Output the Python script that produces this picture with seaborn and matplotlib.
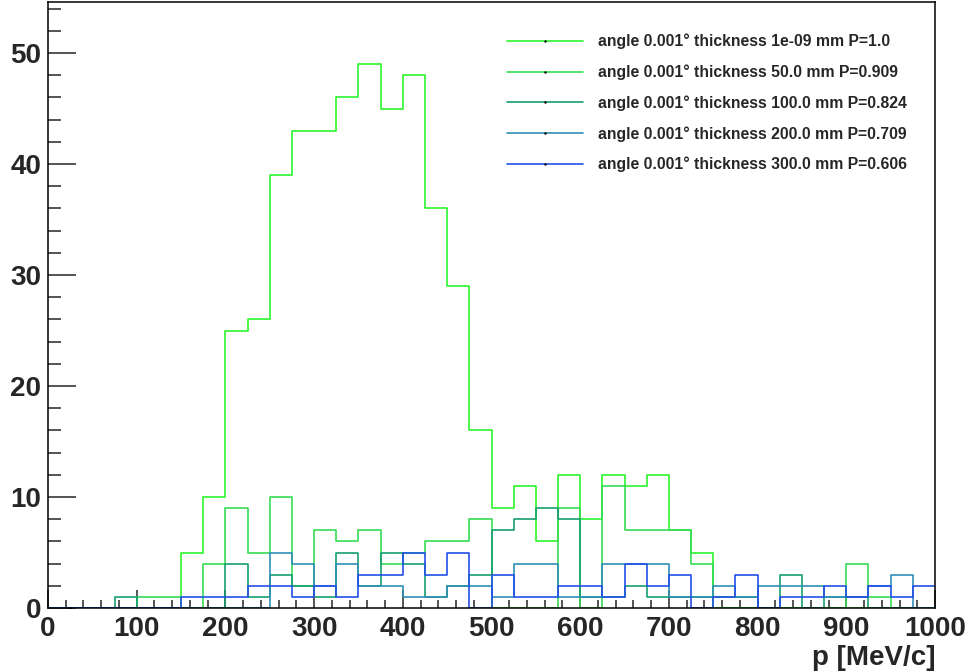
"""
Momentum spectra for several absorber thicknesses (ROOT-style step histograms)
"""

import numpy as np
import pandas as pd
import matplotlib
matplotlib.use("Agg")
import matplotlib.pyplot as plt
import seaborn as sns
from matplotlib.ticker import MultipleLocator

# Binning: 40 bins of 25 MeV/c from 0 to 1000
n_bins = 40
p_range = (0, 1000)
bin_centers = np.arange(n_bins) * 25 + 12.5

labels = [
    "angle 0.001° thickness 1e-09 mm P=1.0",
    "angle 0.001° thickness 50.0 mm P=0.909",
    "angle 0.001° thickness 100.0 mm P=0.824",
    "angle 0.001° thickness 200.0 mm P=0.709",
    "angle 0.001° thickness 300.0 mm P=0.606",
]
colors = ["#2cf52c", "#35dc55", "#16a070", "#2f8fb6", "#2350e6"]

# Counts per bin
counts_1e09 = [0, 0, 0, 0, 0, 0, 5, 10, 25, 26, 39, 43, 43, 46, 49, 45, 48, 36, 29, 16,
               9, 11, 6, 12, 8, 12, 11, 12, 7, 5, 0, 0, 0, 0, 0, 0, 0, 0, 0, 0]
counts_50 = [0, 0, 0, 0, 1, 1, 0, 4, 9, 5, 10, 2, 7, 6, 7, 4, 5, 6, 6, 8,
             0, 0, 0, 9, 0, 11, 7, 7, 7, 4, 0, 0, 0, 0, 0, 0, 4, 1, 0, 0]
counts_100 = [0, 0, 0, 1, 0, 0, 0, 0, 4, 1, 3, 2, 1, 5, 2, 5, 4, 1, 2, 3,
              7, 8, 9, 8, 1, 1, 2, 1, 1, 1, 1, 1, 0, 3, 0, 1, 1, 0, 0, 0]
counts_200 = [0, 0, 0, 0, 0, 0, 0, 0, 0, 0, 5, 4, 2, 4, 2, 2, 1, 1, 2, 2,
              1, 4, 4, 1, 1, 4, 4, 4, 1, 1, 2, 1, 2, 2, 2, 1, 1, 2, 3, 0]
counts_300 = [0, 0, 0, 0, 0, 0, 1, 1, 1, 2, 2, 1, 2, 1, 3, 3, 5, 3, 5, 0,
              3, 1, 1, 2, 2, 1, 4, 2, 3, 0, 1, 3, 0, 1, 1, 2, 1, 2, 1, 2]

series = [counts_1e09, counts_50, counts_100, counts_200, counts_300]

sns.set_style("ticks")
plt.rcParams['font.family'] = ['Liberation Sans', 'DejaVu Sans']
plt.rcParams['font.weight'] = 'bold'

fig, ax = plt.subplots(figsize=(9.69, 6.72), dpi=100)
fig.subplots_adjust(left=48 / 969, right=935 / 969, bottom=64 / 672, top=670 / 672)

for label, counts, color in zip(labels, series, colors):
    df = pd.DataFrame({"p": bin_centers, "n": counts})
    sns.histplot(data=df, x="p", weights="n", bins=n_bins, binrange=p_range,
                 element="step", fill=False, color=color, linewidth=1.2,
                 ax=ax, label=label)

ax.set_xlim(*p_range)
ax.set_ylim(0, 54.6)
ax.set_ylabel("")
ax.set_xlabel("p [MeV/c]", loc="right", fontsize=20, fontweight="bold", labelpad=2)

ax.xaxis.set_major_locator(MultipleLocator(100))
ax.xaxis.set_minor_locator(MultipleLocator(20))
ax.yaxis.set_major_locator(MultipleLocator(10))
ax.yaxis.set_minor_locator(MultipleLocator(2))
ax.tick_params(axis="x", which="major", direction="in", length=13, width=1.1,
               labelsize=20, pad=6)
ax.tick_params(axis="x", which="minor", direction="in", length=6, width=1.1)
ax.tick_params(axis="y", which="major", direction="in", length=20, width=1.1,
               labelsize=20, pad=5)
ax.tick_params(axis="y", which="minor", direction="in", length=9.5, width=1.1)
for lab in ax.get_xticklabels() + ax.get_yticklabels():
    lab.set_fontweight("bold")

# ROOT frame: full box, ticks only on left/bottom
for side in ["left", "bottom", "right", "top"]:
    ax.spines[side].set_linewidth(1.1)
    ax.spines[side].set_color("black")

# legend with small ROOT-like marker dot in the middle of each line
handles, hlabels = ax.get_legend_handles_labels()
for h in handles:
    h.set_marker(".")
    h.set_markersize(1.5)
    h.set_markerfacecolor("black")
    h.set_markeredgecolor("black")
    h.set_markevery([1])
ax.legend(handles, hlabels, loc="upper left", bbox_to_anchor=(0.502, 0.971),
          frameon=False, handlelength=4.8, handletextpad=0.95,
          labelspacing=0.97, prop={"weight": "bold", "size": 11.3})

fig.savefig("out.png", dpi=100)
